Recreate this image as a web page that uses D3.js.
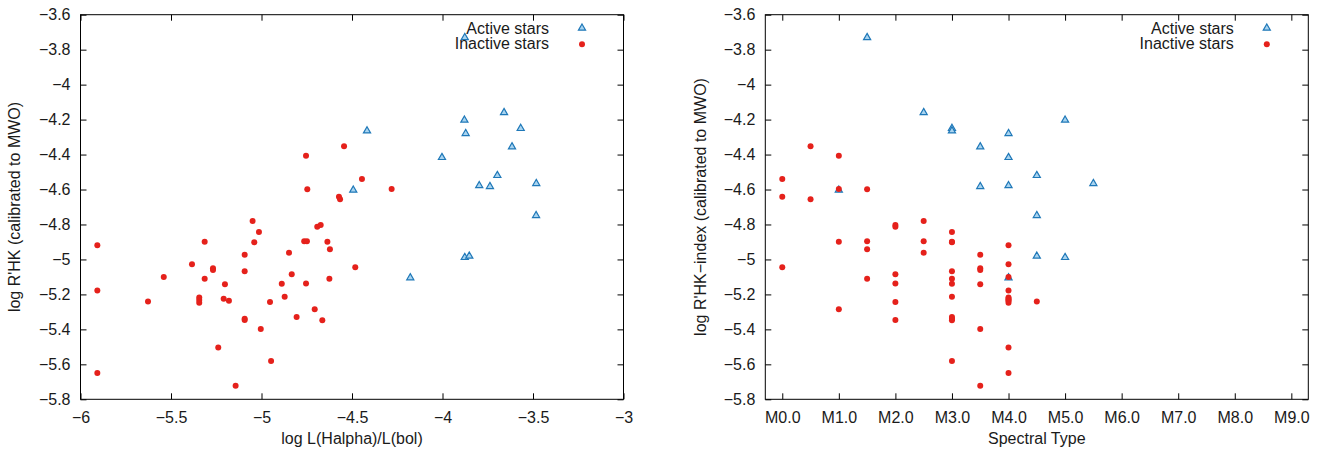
<!DOCTYPE html>
<html lang="en">
<head>
  <meta charset="UTF-8">
  <title>log R'HK vs activity indicators</title>
  <script src="https://d3js.org/d3.v7.min.js"></script>
  <style>
    body {
      margin: 0;
      padding: 0;
      background: #ffffff;
    }
    svg {
      display: block;
      font-family: "Liberation Sans", Arial, sans-serif;
    }
  </style>
</head>
<body>
  <script>
    // Active stars: log R'HK, log L(Halpha)/L(bol), spectral subtype (M0.0 = 0)
    const activeRHK = [-3.726, -4.155, -4.246, -4.26, -4.198, -4.275, -4.351, -4.412, -4.515,
                       -4.573, -4.578, -4.561, -4.599, -4.744, -5.10, -4.984, -4.976];
    const activeHa  = [-3.877, -3.66, -3.568, -4.417, -3.879, -3.872, -3.616, -4.003, -3.697,
                       -3.797, -3.738, -3.482, -4.493, -3.483, -4.178, -3.877, -3.852];
    const activeSpT = [1.5, 2.5, 3.0, 3.0, 5.0, 4.0, 3.5, 4.0, 4.5,
                       4.0, 3.5, 5.5, 1.0, 4.5, 4.0, 5.0, 4.5];

    // Inactive stars
    const inactiveRHK = [-4.919, -5.177, -5.65, -5.24, -5.10, -5.028, -4.899, -5.11, -5.217, -5.232,
                         -5.248, -5.051, -5.503, -5.142, -5.225, -5.236, -5.722, -4.973, -5.068, -5.347,
                         -4.78, -4.843, -4.902, -5.398, -5.244, -5.581, -5.139, -5.213, -4.962, -5.085,
                         -5.329, -4.896, -4.896, -5.137, -5.285, -4.813, -4.803, -5.348, -4.899, -4.942,
                         -5.11, -4.407, -4.599, -4.353, -4.54, -4.597, -4.641, -4.656, -5.045, -5.06,
                         -5.339];
    const inactiveHa  = [-5.907, -5.907, -5.907, -5.627, -5.54, -5.384, -5.314, -5.314, -5.344, -5.344,
                         -5.344, -5.268, -5.239, -5.202, -5.209, -5.18, -5.143, -5.093, -5.093, -5.093,
                         -5.049, -5.014, -5.04, -5.004, -4.953, -4.947, -4.888, -4.872, -4.848, -4.833,
                         -4.806, -4.764, -4.749, -4.754, -4.706, -4.692, -4.673, -4.664, -4.636, -4.622,
                         -4.625, -4.754, -4.747, -4.544, -4.445, -4.281, -4.572, -4.566, -4.482, -5.268,
                         -5.093];
    const inactiveSpT = [4.0, 4.0, 4.0, 4.5, 4.0, 4.0, 1.0, 1.5, 4.0, 4.0,
                         4.0, 3.5, 4.0, 3.5, 4.0, 4.0, 3.5, 3.5, 3.0, 2.0,
                         2.5, 3.0, 3.0, 3.5, 2.0, 3.0, 3.0, 3.0, 2.5, 2.0,
                         3.0, 1.5, 2.5, 2.0, 1.0, 2.0, 2.0, 3.0, 3.0, 1.5,
                         3.0, 1.0, 1.5, 0.5, 0.0, 1.0, 0.0, 0.5, 0.0, 3.5,
                         3.0];

    // tick labels
    const yTicks = [-3.6, -3.8, -4, -4.2, -4.4, -4.6, -4.8, -5, -5.2, -5.4, -5.6, -5.8];
    const haTicks = [-6, -5.5, -5, -4.5, -4, -3.5, -3];
    const sptTicks = [0, 1, 2, 3, 4, 5, 6, 7, 8, 9];
    const sptLabels = ["M0.0", "M1.0", "M2.0", "M3.0", "M4.0", "M5.0", "M6.0", "M7.0", "M8.0", "M9.0"];

    const seriesNames = ["Active stars", "Inactive stars"];

    const width = 1335, height = 453;
    const textColor = "#1a1a1a";
    const red = "#e5211b";
    const blueLine = "#1f78b8", blueFill = "#a9d4f0";

    const svg = d3.select("body").append("svg")
        .attr("width", width)
        .attr("height", height)
        .style("font-size", "16px");

    const fmt = d3.format("~g");
    const tri = d3.symbol().type(d3.symbolTriangle).size(22);

    const yScale = d3.scaleLinear().domain([-5.8, -3.6]).range([399.3, 14.7]);

    function panel(opts) {
      const x = opts.x, y = yScale;
      const [x0, x1] = x.range();
      const [y0, y1] = y.range();
      const g = svg.append("g");

      // axes with inward ticks, mirrored on top and right
      const styleAxis = sel => {
        sel.select(".domain").remove();
        sel.selectAll("line").attr("stroke", "#000");
        sel.selectAll("text").attr("fill", textColor).style("font-size", "16px")
          .attr("font-family", "Liberation Sans, Arial, sans-serif");
      };

      g.append("g").attr("transform", `translate(0,${y0})`)
        .call(d3.axisBottom(x).tickValues(opts.ticks).tickFormat(opts.format)
          .tickSizeInner(-6).tickSizeOuter(0).tickPadding(12))
        .call(styleAxis);
      g.append("g").attr("transform", `translate(0,${y1})`)
        .call(d3.axisTop(x).tickValues(opts.ticks).tickFormat("")
          .tickSizeInner(-6).tickSizeOuter(0))
        .call(styleAxis);
      g.append("g").attr("transform", `translate(${x0},0)`)
        .call(d3.axisLeft(y).tickValues(yTicks).tickFormat(fmt)
          .tickSizeInner(-6).tickSizeOuter(0).tickPadding(10))
        .call(styleAxis);
      g.append("g").attr("transform", `translate(${x1},0)`)
        .call(d3.axisRight(y).tickValues(yTicks).tickFormat("")
          .tickSizeInner(-6).tickSizeOuter(0))
        .call(styleAxis);

      g.append("rect")
        .attr("x", x0).attr("y", y1)
        .attr("width", x1 - x0).attr("height", y0 - y1)
        .attr("fill", "none").attr("stroke", "#000").attr("stroke-width", 1);

      // axis titles
      g.append("text")
        .attr("x", (x0 + x1) / 2).attr("y", 444)
        .attr("text-anchor", "middle").attr("fill", textColor)
        .text(opts.xTitle);
      g.append("text")
        .attr("transform", `translate(${opts.yTitleX},${(y0 + y1) / 2}) rotate(-90)`)
        .attr("text-anchor", "middle").attr("dy", "0.35em").attr("fill", textColor)
        .text(opts.yTitle);

      // active stars first, inactive on top
      g.append("g").selectAll("path")
        .data(d3.range(activeRHK.length))
        .join("path")
          .attr("d", tri)
          .attr("transform", i => `translate(${x(opts.activeX[i])},${y(activeRHK[i]) + 0.8})`)
          .attr("fill", blueFill).attr("stroke", blueLine).attr("stroke-width", 1.2);

      g.append("g").selectAll("circle")
        .data(d3.range(inactiveRHK.length))
        .join("circle")
          .attr("cx", i => x(opts.inactiveX[i]))
          .attr("cy", i => y(inactiveRHK[i]))
          .attr("r", 3)
          .attr("fill", red);

      // key
      const lg = g.append("g");
      lg.selectAll("text")
        .data(seriesNames)
        .join("text")
          .attr("x", x1 - 74.5)
          .attr("y", (d, i) => 33.5 + i * 15.5)
          .attr("text-anchor", "end").attr("fill", textColor)
          .text(d => d);
      lg.append("path")
        .attr("d", tri)
        .attr("transform", `translate(${x1 - 41.5},28.1)`)
        .attr("fill", blueFill).attr("stroke", blueLine).attr("stroke-width", 1.2);
      lg.append("circle")
        .attr("cx", x1 - 41.5).attr("cy", 44.3).attr("r", 3)
        .attr("fill", red);
    }

    panel({
      x: d3.scaleLinear().domain([-6, -3]).range([80.5, 623.5]),
      ticks: haTicks,
      format: fmt,
      activeX: activeHa,
      inactiveX: inactiveHa,
      xTitle: "log L(Halpha)/L(bol)",
      yTitle: "log R'HK (calibrated to MWO)",
      yTitleX: 14.5
    });

    panel({
      x: d3.scaleLinear().domain([-0.3, 9.3]).range([765.3, 1308.3]),
      ticks: sptTicks,
      format: (d, i) => sptLabels[i],
      activeX: activeSpT,
      inactiveX: inactiveSpT,
      xTitle: "Spectral Type",
      yTitle: "log R'HK\u2212index (calibrated to MWO)",
      yTitleX: 700
    });
  </script>
</body>
</html>
